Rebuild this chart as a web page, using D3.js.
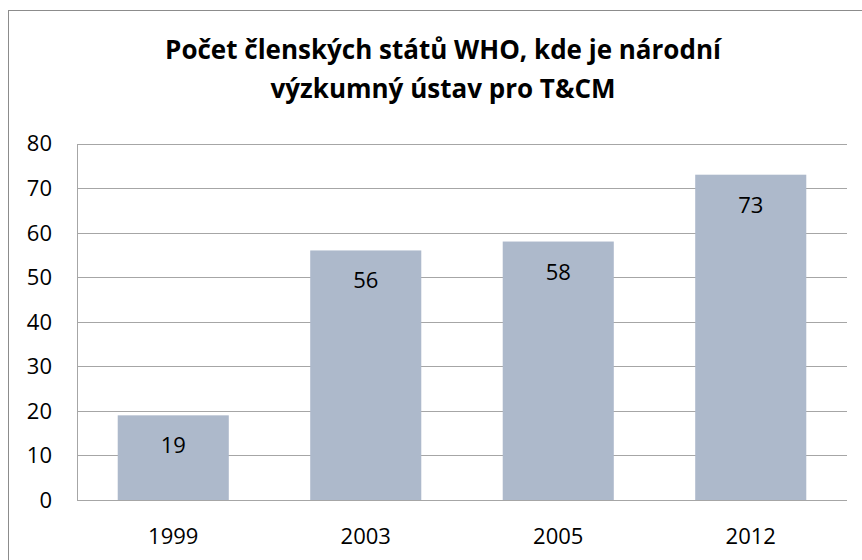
<!DOCTYPE html>
<html>
<head>
<meta charset="utf-8">
<script src="https://cdn.jsdelivr.net/npm/d3@7"></script>
<style>
  html, body { margin: 0; padding: 0; background: #fff; }
  svg text { font-family: "Open Sans", "DejaVu Sans", sans-serif; fill: #000; }
</style>
</head>
<body>
<div id="chart"></div>
<script>
// Excel-style column chart: WHO member states with a national T&CM research institute.

const years = ['1999', '2003', '2005', '2012'];
const counts = [19, 56, 58, 73];
const yTicks = [0, 10, 20, 30, 40, 50, 60, 70, 80];
const titleLines = ['Počet členských států WHO, kde je národní', 'výzkumný ústav pro T&CM'];

const W = 862, H = 560;
const plot = { left: 77, right: 847, top: 143.5, bottom: 500 };

const svg = d3.select('#chart').append('svg')
  .attr('width', W).attr('height', H);

// chart frame (runs off the right and bottom of the picture)
svg.append('rect')
  .attr('x', 8.5).attr('y', 10.5)
  .attr('width', W + 10).attr('height', H + 10)
  .attr('fill', 'none').attr('stroke', '#8c8c8c');

// title
svg.append('text')
  .attr('x', 443).attr('y', 59)
  .attr('text-anchor', 'middle')
  .style('font-weight', 'bold').style('font-size', '26px')
  .selectAll('tspan').data(titleLines).enter().append('tspan')
  .attr('x', 443).attr('dy', (d, i) => i === 0 ? 0 : 39)
  .text((d) => d);

const x = d3.scaleBand().domain(years).range([plot.left, plot.right]).paddingInner(0.423).paddingOuter(0.2115);
const y = d3.scaleLinear().domain([0, 80]).range([plot.bottom, plot.top]);

// gridlines
svg.append('g').selectAll('line').data(yTicks).enter().append('line')
  .attr('x1', plot.left).attr('x2', plot.right)
  .attr('y1', (d) => Math.round(y(d)) + 0.5).attr('y2', (d) => Math.round(y(d)) + 0.5)
  .attr('stroke', '#a6a6a6').attr('stroke-width', 1);

// left axis line
svg.append('line')
  .attr('x1', plot.left + 0.5).attr('x2', plot.left + 0.5)
  .attr('y1', Math.round(y(80)) + 0.5).attr('y2', Math.round(y(0)) + 0.5)
  .attr('stroke', '#a6a6a6');

// y tick labels
svg.append('g').selectAll('text').data(yTicks).enter().append('text')
  .attr('x', 52).attr('y', (d) => y(d))
  .attr('dy', '0.36em').attr('text-anchor', 'end')
  .style('font-size', '22px')
  .text((d) => d);

// bars
svg.append('g').selectAll('rect').data(counts).enter().append('rect')
  .attr('x', (d, i) => x(years[i]))
  .attr('y', (d) => y(d))
  .attr('width', x.bandwidth())
  .attr('height', (d) => y(0) - y(d))
  .attr('fill', '#adb9cb');

// bar value labels (inside end)
svg.append('g').selectAll('text').data(counts).enter().append('text')
  .attr('x', (d, i) => x(years[i]) + x.bandwidth() / 2)
  .attr('y', (d) => y(d) + 38)
  .attr('text-anchor', 'middle')
  .style('font-size', '22px')
  .text((d) => d);

// x category labels
svg.append('g').selectAll('text').data(years).enter().append('text')
  .attr('x', (d) => x(d) + x.bandwidth() / 2)
  .attr('y', 544)
  .attr('text-anchor', 'middle')
  .style('font-size', '22px')
  .text((d) => d);
</script>
</body>
</html>
